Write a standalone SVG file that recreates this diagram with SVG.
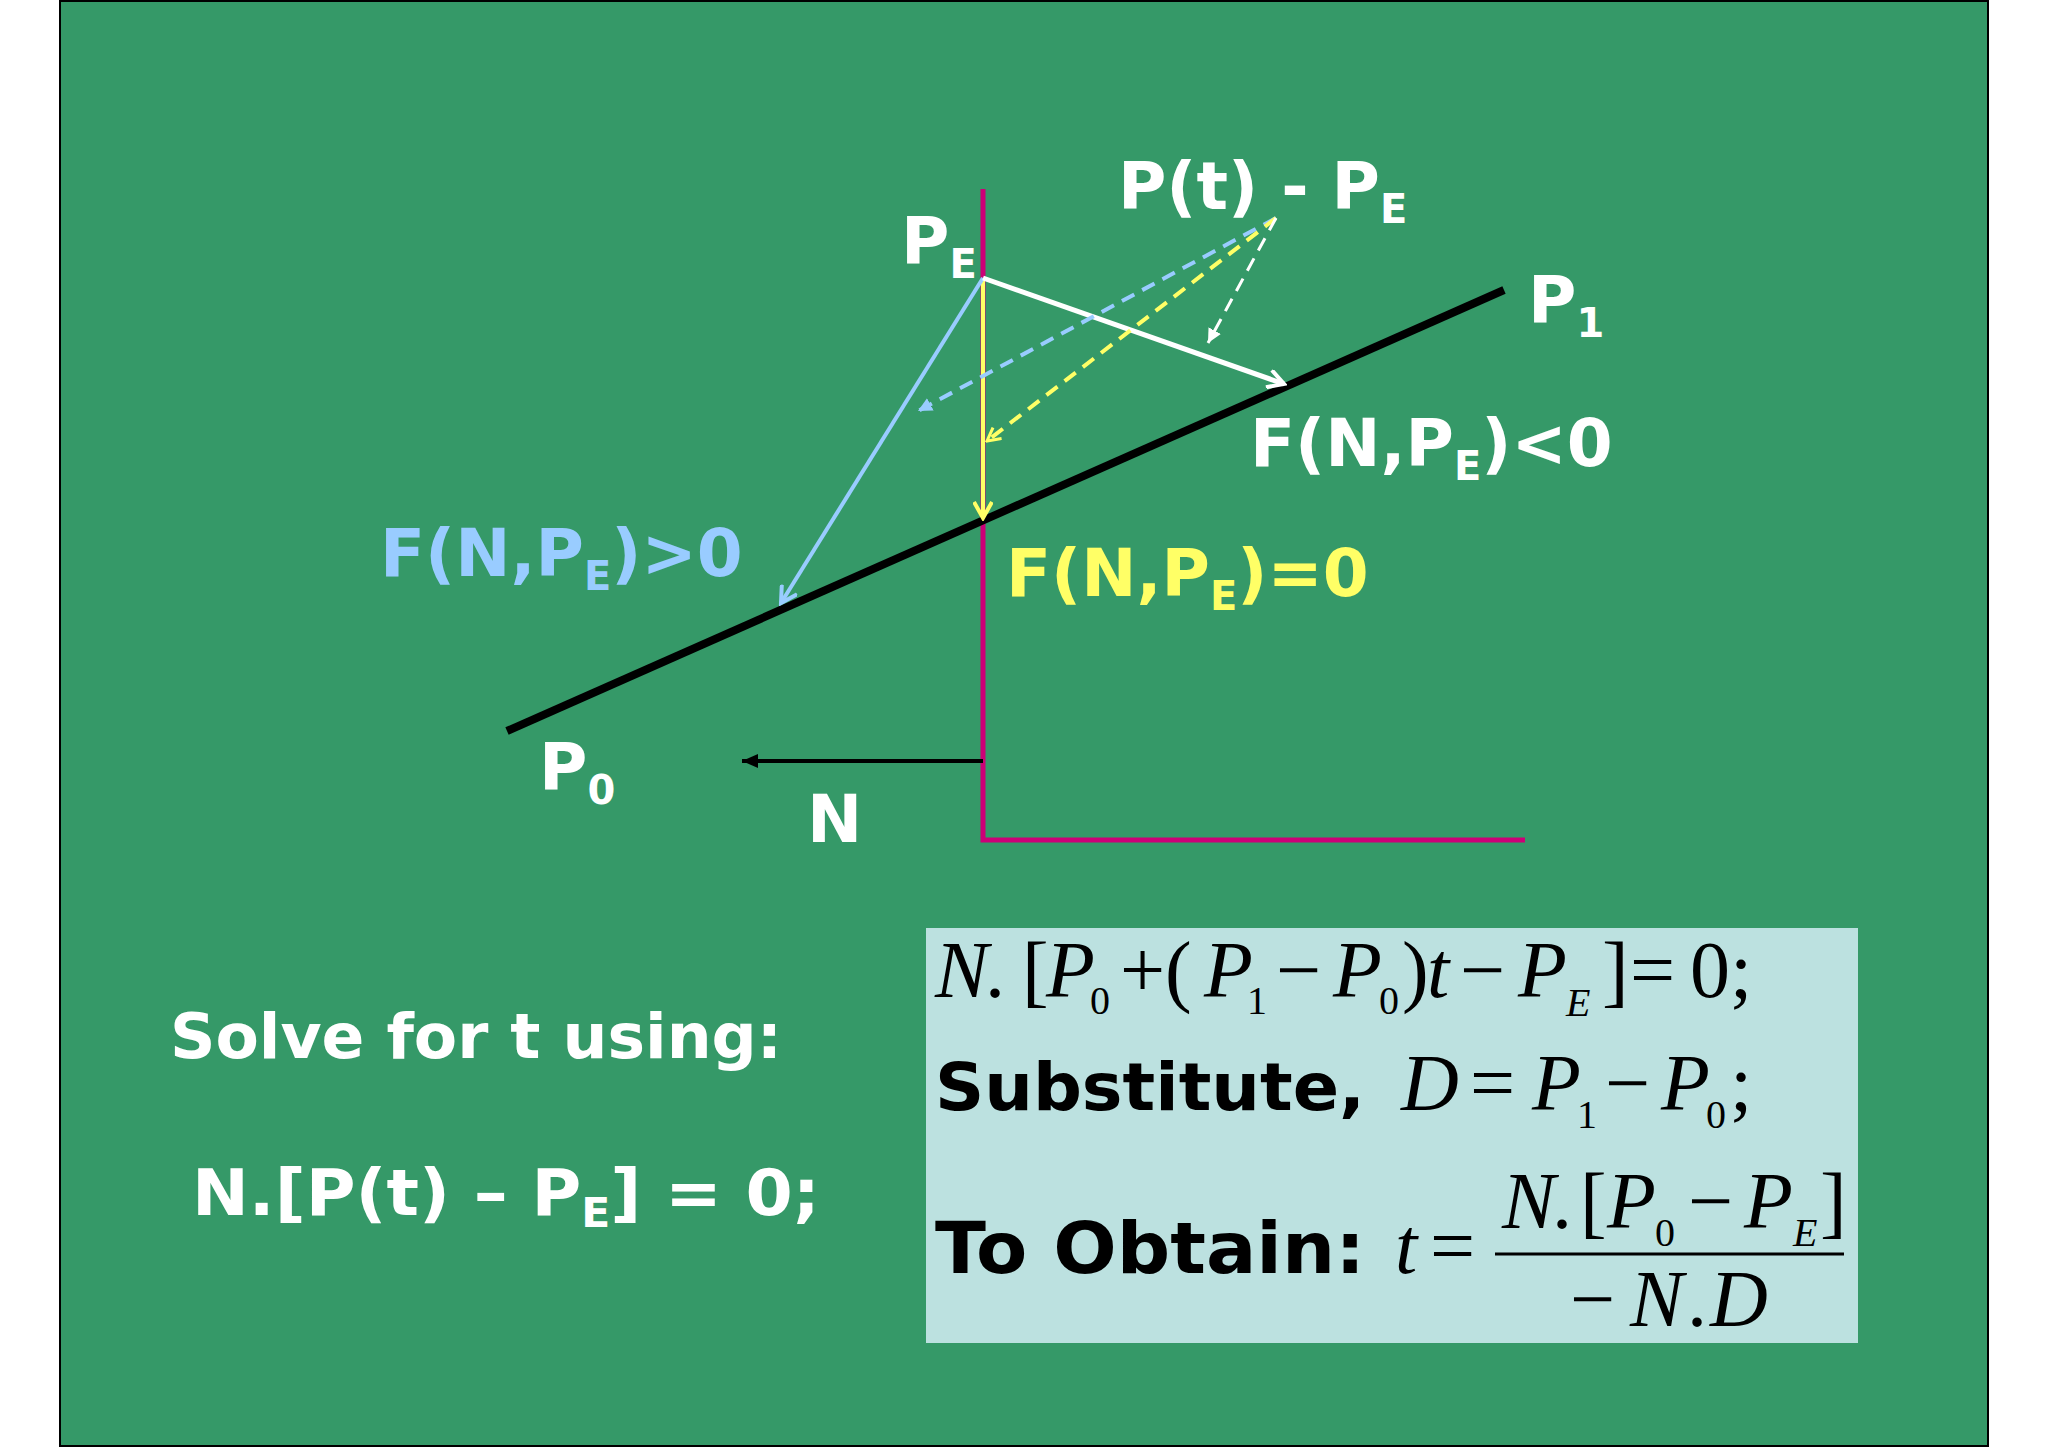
<svg xmlns="http://www.w3.org/2000/svg" width="2048" height="1448" viewBox="0 0 2048 1448">
<defs>
<style>
.lbl{font-family:"DejaVu Sans",Verdana,sans-serif;font-weight:bold;font-size:66px}
.sub{font-size:40px}
.wh{fill:#ffffff}
.eq{font-family:"Liberation Serif","Times New Roman",serif;font-style:italic;font-size:80px;fill:#000}
.up{font-style:normal}
.es{font-size:40px}
.bk{font-family:"DejaVu Sans",Verdana,sans-serif;font-weight:bold;font-size:66px;fill:#000}
</style>
<marker id="aw" markerWidth="20" markerHeight="20" refX="17" refY="10" orient="auto" markerUnits="userSpaceOnUse"><path d="M1,1 L17,10 L1,19" fill="none" stroke="#fff" stroke-width="4"/></marker>
<marker id="ay" markerWidth="20" markerHeight="20" refX="17" refY="10" orient="auto" markerUnits="userSpaceOnUse"><path d="M1,1 L17,10 L1,19" fill="none" stroke="#ffff66" stroke-width="4"/></marker>
<marker id="ab" markerWidth="20" markerHeight="20" refX="17" refY="10" orient="auto" markerUnits="userSpaceOnUse"><path d="M1,1 L17,10 L1,19" fill="none" stroke="#99ccff" stroke-width="4"/></marker>
<marker id="fb" markerWidth="16" markerHeight="16" refX="14" refY="8" orient="auto" markerUnits="userSpaceOnUse"><path d="M0,1 L14,8 L0,15 z" fill="#99ccff"/></marker>
<marker id="fy" markerWidth="16" markerHeight="16" refX="14" refY="8" orient="auto" markerUnits="userSpaceOnUse"><path d="M1,1 L14,8 L1,15" fill="none" stroke="#ffff66" stroke-width="3"/></marker>
<marker id="fw" markerWidth="16" markerHeight="16" refX="14" refY="8" orient="auto" markerUnits="userSpaceOnUse"><path d="M0,1 L14,8 L0,15 z" fill="#fff"/></marker>
<marker id="ak" markerWidth="18" markerHeight="16" refX="16" refY="8" orient="auto" markerUnits="userSpaceOnUse"><path d="M0,1 L16,8 L0,15 z" fill="#000"/></marker>
</defs>
<rect x="0" y="0" width="2048" height="1448" fill="#ffffff"/>
<rect x="60" y="1" width="1928" height="1445" fill="#359968" stroke="#000" stroke-width="2"/>
<rect x="926" y="928" width="932" height="415" fill="#bce1e0"/>
<g id="connectors">
<polyline points="983,189 983,840 1525,840" fill="none" stroke="#cc0077" stroke-width="5"/>
<line x1="507" y1="731" x2="1504" y2="290" stroke="#000" stroke-width="8"/>
<line x1="983" y1="278" x2="983" y2="518" stroke="#ffff66" stroke-width="4" marker-end="url(#ay)"/>
<line x1="983" y1="278" x2="781" y2="603" stroke="#99ccff" stroke-width="4" marker-end="url(#ab)"/>
<line x1="983" y1="278" x2="1284" y2="384" stroke="#fff" stroke-width="5" marker-end="url(#aw)"/>
<line x1="1276" y1="218" x2="918" y2="411" stroke="#99ccff" stroke-width="4" stroke-dasharray="14,9" marker-end="url(#fb)"/>
<line x1="1276" y1="218" x2="987" y2="441" stroke="#ffff66" stroke-width="4" stroke-dasharray="14,9" marker-end="url(#fy)"/>
<line x1="1276" y1="218" x2="1208" y2="343" stroke="#fff" stroke-width="3" stroke-dasharray="14,9" marker-end="url(#fw)"/>
<line x1="983" y1="761" x2="742" y2="761" stroke="#000" stroke-width="4" marker-end="url(#ak)"/>
</g>
<g id="labels">
<text class="lbl wh" x="1118" y="209">P(t) - P<tspan class="sub" dy="14">E</tspan></text>
<text class="lbl wh" x="901" y="264">P<tspan class="sub" dy="14">E</tspan></text>
<text class="lbl wh" x="1528" y="323">P<tspan class="sub" dy="14">1</tspan></text>
<text class="lbl wh" x="1250" y="466">F(N,P<tspan class="sub" dy="14">E</tspan><tspan dy="-14">)&lt;0</tspan></text>
<text class="lbl" fill="#99ccff" x="380" y="576">F(N,P<tspan class="sub" dy="14">E</tspan><tspan dy="-14">)&gt;0</tspan></text>
<text class="lbl" fill="#ffff66" x="1006" y="596">F(N,P<tspan class="sub" dy="14">E</tspan><tspan dy="-14">)=0</tspan></text>
<text class="lbl wh" x="539" y="790">P<tspan class="sub" dy="14">0</tspan></text>
<text class="lbl wh" x="807" y="842">N</text>
<text class="lbl wh" x="170" y="1058" style="font-size:62px" textLength="612" lengthAdjust="spacingAndGlyphs">Solve for t using:</text>
<text class="lbl wh" x="192" y="1215" style="font-size:64px" textLength="628" lengthAdjust="spacingAndGlyphs">N.[P(t) – P<tspan class="sub" dy="12">E</tspan><tspan dy="-12">] = 0;</tspan></text>
</g>
<g id="eq1">
<text class="eq" y="997"><tspan x="935">N</tspan><tspan x="985" class="up">.</tspan><tspan x="1022" class="up">[</tspan><tspan x="1046">P</tspan><tspan x="1090" y="1014" class="es up">0</tspan><tspan x="1120" y="997" class="up">+(</tspan><tspan x="1204">P</tspan><tspan x="1247" y="1014" class="es up">1</tspan><tspan x="1276" y="997" class="up">−</tspan><tspan x="1333">P</tspan><tspan x="1379" y="1014" class="es up">0</tspan><tspan x="1402" y="997" class="up">)</tspan><tspan x="1427">t</tspan><tspan x="1460" class="up">−</tspan><tspan x="1518">P</tspan><tspan x="1566" y="1016" class="es">E</tspan><tspan x="1602" y="997" class="up">]</tspan><tspan x="1630" class="up">=</tspan><tspan x="1690" class="up">0;</tspan></text>
</g>
<g id="eq2">
<text class="bk" x="935" y="1110" textLength="430" lengthAdjust="spacingAndGlyphs">Substitute,</text>
<text class="eq" y="1110"><tspan x="1401">D</tspan><tspan x="1470" class="up">=</tspan><tspan x="1532">P</tspan><tspan x="1577" y="1128" class="es up">1</tspan><tspan x="1605" y="1110" class="up">−</tspan><tspan x="1661">P</tspan><tspan x="1706" y="1128" class="es up">0</tspan><tspan x="1730" y="1110" class="up">;</tspan></text>
</g>
<g id="eq3">
<text class="bk" x="935" y="1273" style="font-size:72px" textLength="430" lengthAdjust="spacingAndGlyphs">To Obtain:</text>
<text class="eq" y="1273"><tspan x="1395">t</tspan><tspan x="1430" class="up">=</tspan></text>
<line x1="1495" y1="1254" x2="1844" y2="1254" stroke="#000" stroke-width="3"/>
<text class="eq" y="1228"><tspan x="1502">N</tspan><tspan x="1552" class="up">.</tspan><tspan x="1580" class="up">[</tspan><tspan x="1607">P</tspan><tspan x="1655" y="1246" class="es up">0</tspan><tspan x="1688" y="1228" class="up">−</tspan><tspan x="1744">P</tspan><tspan x="1793" y="1246" class="es">E</tspan><tspan x="1820" y="1228" class="up">]</tspan></text>
<text class="eq" y="1326"><tspan x="1570" class="up">−</tspan><tspan x="1630">N</tspan><tspan x="1687" class="up">.</tspan><tspan x="1710">D</tspan></text>
</g>
</svg>
